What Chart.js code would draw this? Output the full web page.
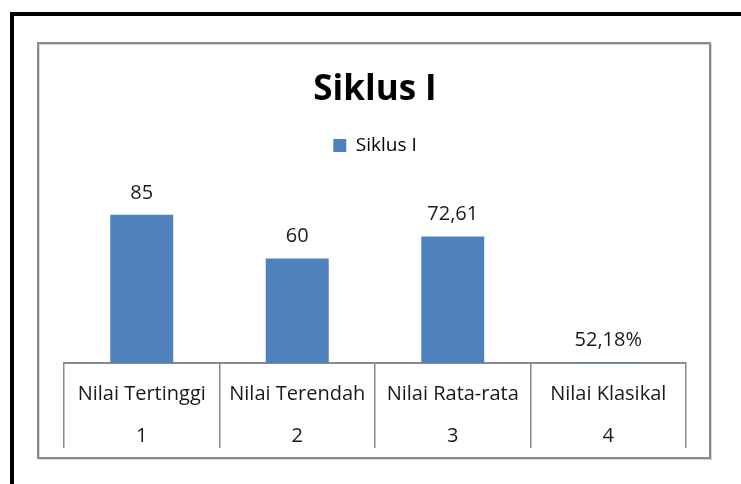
<!DOCTYPE html>
<html>
<head>
<meta charset="utf-8">
<script src="https://cdn.jsdelivr.net/npm/chart.js@4"></script>
<style>
  html, body { margin: 0; padding: 0; background: #fff; }
  #wrap { width: 741px; height: 484px; position: relative; }
</style>
</head>
<body>
<div id="wrap"><canvas id="myChart" width="741" height="484"></canvas></div>
<script>
const ctx = document.getElementById('myChart');

// data
const categories = ["Nilai Tertinggi", "Nilai Terendah", "Nilai Rata-rata", "Nilai Klasikal"];
const categoryNumbers = ["1", "2", "3", "4"];
const siklusValues = [85, 60, 72.61, 0.5218];
const valueLabels = ["85", "60", "72,61", "52,18%"];

const fontFamily = "'Open Sans', Lato, sans-serif";
const gridGray = "#8a8a8a";

// frame around the picture + grey box of the chart
const framePlugin = {
    id: 'frame',
    beforeDraw(chart) {
        const c = chart.ctx;
        c.save();
        c.fillStyle = '#fff';
        c.fillRect(0, 0, chart.width, chart.height);
        c.strokeStyle = '#000';
        c.lineWidth = 4;
        c.strokeRect(12, 14, 900, 700);
        c.strokeStyle = '#d6d6d6';
        c.lineWidth = 1;
        c.strokeRect(39.5, 44.5, 672, 415);
        c.strokeStyle = '#8c8c8c';
        c.lineWidth = 2;
        c.strokeRect(38, 43, 672, 415);
        c.restore();
    }
};

// value labels above bars, category table text under the axis
const textPlugin = {
    id: 'texts',
    afterDraw(chart) {
        const c = chart.ctx;
        const meta = chart.getDatasetMeta(0);
        const xScale = chart.scales.x;
        c.save();
        c.font = "20px " + fontFamily;
        c.fillStyle = '#1a1a1a';
        c.textAlign = 'center';
        c.textBaseline = 'middle';
        meta.data.forEach((bar, i) => {
            c.fillText(valueLabels[i], bar.x, bar.y - 22);
        });
        categories.forEach((cat, i) => {
            const x = xScale.getPixelForValue(i);
            c.fillText(cat, x, xScale.top + 31);
            c.fillText(categoryNumbers[i], x, xScale.top + 73);
        });
        c.restore();
    }
};

const data = {
    labels: categories,
    datasets: [
        {
            label: 'Siklus I',
            data: siklusValues,
            backgroundColor: "#4f81bd",
            borderWidth: 0,
            categoryPercentage: 1,
            barPercentage: 0.405
        }
    ]
};

const visibleChart = new Chart(ctx, {
    type: 'bar',
    data: data,
    plugins: [framePlugin, textPlugin],
    options: {
        responsive: false,
        animation: false,
        events: [],
        layout: {
            padding: { left: 64, right: 55, top: 69, bottom: 36 }
        },
        plugins: {
            title: {
                display: true,
                text: 'Siklus I',
                color: '#000',
                font: { family: fontFamily, size: 35, weight: 'bold' },
                padding: { top: 0, bottom: 17 }
            },
            legend: {
                display: true,
                labels: {
                    color: '#000',
                    font: { family: fontFamily, size: 19 },
                    boxWidth: 13,
                    boxHeight: 13,
                    padding: 8
                }
            },
            tooltip: { enabled: false }
        },
        scales: {
            x: {
                z: 1,
                grid: {
                    offset: true,
                    drawOnChartArea: false,
                    drawTicks: true,
                    tickLength: 85,
                    color: gridGray,
                    lineWidth: 1.5
                },
                border: { display: true, color: gridGray, width: 2 },
                ticks: { display: false }
            },
            y: {
                display: false,
                min: 0,
                max: 113.6
            }
        }
    }
});
</script>
</body>
</html>
